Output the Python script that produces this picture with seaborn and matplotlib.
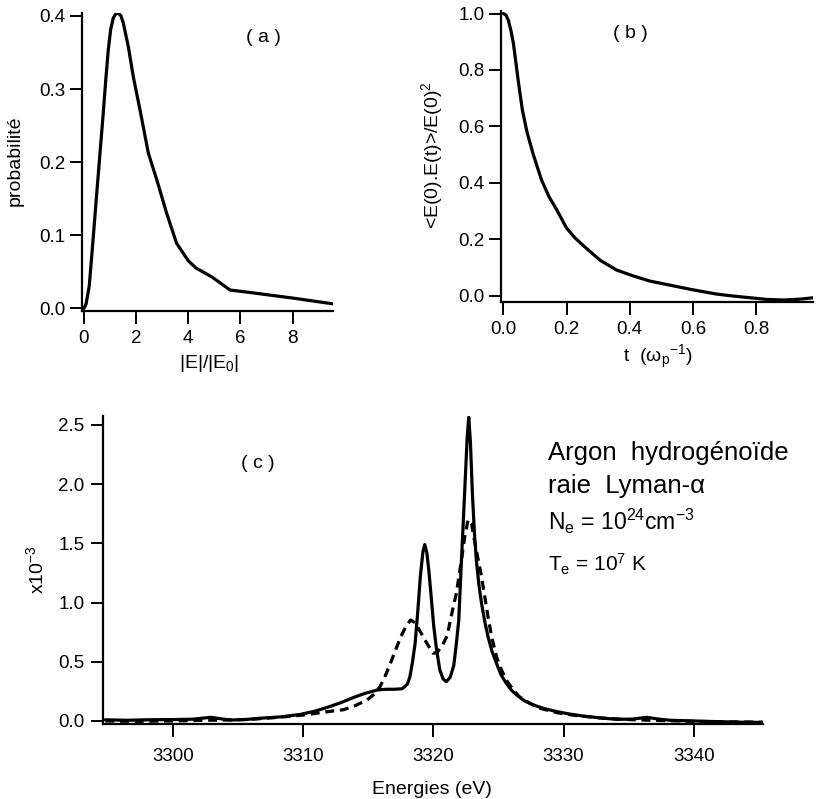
import matplotlib
matplotlib.use("Agg")
import matplotlib.pyplot as plt
import seaborn as sns
import numpy as np

# ---------------- data ----------------
# (a) probability distribution of |E|/|E0|
a_x = [0.0, 0.08, 0.20, 0.35, 0.49, 0.62, 0.74, 0.84, 0.93, 1.02, 1.12, 1.22, 1.32,
       1.42, 1.51, 1.70, 1.89, 2.15, 2.47, 2.79, 3.17, 3.55, 4.0, 4.3, 4.9, 5.6,
       6.5, 8.0, 9.56]
a_y = [0.0, 0.006, 0.030, 0.095, 0.158, 0.215, 0.268, 0.315, 0.353, 0.381, 0.397,
       0.403, 0.404, 0.400, 0.390, 0.358, 0.317, 0.271, 0.212, 0.176, 0.130, 0.089,
       0.065, 0.055, 0.043, 0.025, 0.021, 0.014, 0.006]

# (b) electric field autocorrelation
b_t = [0.0, 0.008, 0.016, 0.024, 0.032, 0.047, 0.060, 0.075, 0.095, 0.121, 0.145,
       0.169, 0.200, 0.227, 0.253, 0.306, 0.359, 0.412, 0.464, 0.517, 0.596, 0.675,
       0.728, 0.781, 0.834, 0.887, 0.939, 0.981]
b_y = [1.0, 0.995, 0.976, 0.940, 0.894, 0.764, 0.660, 0.580, 0.500, 0.410, 0.350,
       0.305, 0.240, 0.205, 0.178, 0.126, 0.091, 0.070, 0.052, 0.040, 0.022, 0.006,
       -0.001, -0.007, -0.013, -0.015, -0.012, -0.007]

# (c) Lyman-alpha profiles (x1e-3)
c_e_solid = [3294.8, 3296.5, 3298.0, 3300.0, 3301.5, 3302.9, 3304.4, 3305.5, 3306.7,
             3308.3, 3309.8, 3310.8, 3311.8, 3312.9, 3313.9, 3314.8, 3315.7, 3316.4,
             3317.0, 3317.6, 3318.0, 3318.2, 3318.4, 3318.6, 3318.8, 3319.0, 3319.2,
             3319.34, 3319.5, 3319.65, 3319.85, 3320.03, 3320.25, 3320.5, 3320.75,
             3321.0, 3321.3, 3321.57, 3321.77, 3321.95, 3322.16, 3322.4, 3322.6,
             3322.72, 3322.85, 3323.0, 3323.15, 3323.3, 3323.5, 3323.7, 3323.95,
             3324.2, 3324.5, 3324.85, 3325.2, 3325.6, 3326.0, 3326.4, 3327.0, 3327.7,
             3328.5, 3329.5, 3330.5, 3331.5, 3332.8, 3334.1, 3335.3, 3336.4, 3337.3,
             3338.2, 3340.0, 3342.0, 3343.5, 3345.3]
c_solid = [0.010, 0.006, 0.010, 0.012, 0.015, 0.031, 0.008, 0.012, 0.023,
           0.035, 0.056, 0.080, 0.113, 0.155, 0.200, 0.235, 0.262, 0.268,
           0.268, 0.272, 0.310, 0.374, 0.500, 0.656, 0.920, 1.220, 1.430,
           1.490, 1.420, 1.275, 1.030, 0.800, 0.600, 0.430, 0.355,
           0.332, 0.370, 0.470, 0.656, 0.850, 1.360, 1.920, 2.400,
           2.565, 2.350, 1.920, 1.600, 1.360, 1.150, 0.994, 0.840,
           0.712, 0.590, 0.487, 0.390, 0.318, 0.260, 0.220, 0.170, 0.135,
           0.105, 0.079, 0.058, 0.042, 0.026, 0.014, 0.016, 0.031, 0.016,
           0.006, 0.000, -0.006, -0.010, -0.012]

c_e_dash = [3294.8, 3297.0, 3300.0, 3302.0, 3304.0, 3306.0, 3308.0, 3310.0, 3311.3,
            3312.3, 3313.1, 3314.0, 3314.9, 3315.5, 3315.9, 3316.3, 3316.7, 3317.1,
            3317.5, 3317.9, 3318.25, 3318.6, 3319.0, 3319.5, 3319.98, 3320.3,
            3320.7, 3321.06, 3321.26, 3321.5, 3321.77, 3322.16, 3322.4, 3322.67,
            3322.93, 3323.1, 3323.3, 3323.7, 3323.95, 3324.2, 3324.5, 3324.85,
            3325.2, 3325.6, 3326.1, 3326.6, 3327.4, 3328.2, 3329.5, 3331.0, 3333.0,
            3335.0, 3337.0, 3339.0, 3341.0, 3343.0, 3345.3]
c_dash = [0.000, -0.003, 0.000, 0.005, 0.008, 0.014, 0.030, 0.050, 0.070,
          0.085, 0.095, 0.130, 0.177, 0.230, 0.290, 0.380, 0.487, 0.600,
          0.712, 0.800, 0.853, 0.830, 0.754, 0.656, 0.572, 0.580,
          0.640, 0.720, 0.825, 0.950, 1.080, 1.360, 1.550, 1.700,
          1.670, 1.560, 1.444, 1.219, 1.050, 0.880, 0.700, 0.543,
          0.440, 0.346, 0.270, 0.205, 0.150, 0.107, 0.070, 0.045, 0.024,
          0.012, 0.005, 0.000, -0.005, -0.008, -0.010]

a_xticks = [0, 2, 4, 6, 8]
a_yticks = [0.0, 0.1, 0.2, 0.3, 0.4]
b_xticks = [0.0, 0.2, 0.4, 0.6, 0.8]
b_yticks = [0.0, 0.2, 0.4, 0.6, 0.8, 1.0]
c_xticks = [3300, 3310, 3320, 3330, 3340]
c_yticks = [0.0, 0.5, 1.0, 1.5, 2.0, 2.5]

# ---------------- style ----------------
sns.set_theme(style="ticks")
FAM = ["Liberation Sans", "DejaVu Sans"]
plt.rcParams["font.family"] = FAM
plt.rcParams["mathtext.default"] = "regular"
plt.rcParams["axes.linewidth"] = 1.6

W, H = 816, 799
fig = plt.figure(figsize=(W / 100, H / 100), dpi=100)
fig.patch.set_facecolor("white")

TICK_FS = 13.5
LABEL_FS = 14


def frac(x, y):
    return x / W, 1 - y / H


def make_ax(l, t, r, b, xpad=5, ypad=3):
    ax = fig.add_axes([l / W, 1 - b / H, (r - l) / W, (b - t) / H])
    ax.set_facecolor("white")
    sns.despine(ax=ax)
    for s in ("left", "bottom"):
        ax.spines[s].set_color("black")
        ax.spines[s].set_linewidth(1.6)
    ax.tick_params(direction="out", length=9, width=1.4, colors="black",
                   labelsize=TICK_FS, labelcolor="black")
    ax.tick_params(axis="x", pad=xpad)
    ax.tick_params(axis="y", pad=ypad)
    ax.grid(False)
    return ax


LW = 2.3

# (a)
ax_a = make_ax(81.7, 12.7, 333.3, 310.7)
sns.lineplot(x=a_x, y=a_y, ax=ax_a, color="black", lw=LW, sort=False)
ax_a.set_xlim(-0.088, 9.56)
ax_a.set_ylim(-0.0033, 0.4045)
ax_a.set_xticks(a_xticks)
ax_a.set_xticklabels([str(v) for v in a_xticks])
ax_a.set_yticks(a_yticks)
ax_a.set_yticklabels([f"{v:.1f}" for v in a_yticks])

# (b)
ax_b = make_ax(501, 11, 813.3, 301.7)
sns.lineplot(x=b_t, y=b_y, ax=ax_b, color="black", lw=LW, sort=False)
ax_b.set_xlim(-0.0073, 0.981)
ax_b.set_ylim(-0.021, 1.009)
ax_b.set_xticks(b_xticks)
ax_b.set_xticklabels([f"{v:.1f}" for v in b_xticks])
ax_b.set_yticks(b_yticks)
ax_b.set_yticklabels([f"{v:.1f}" for v in b_yticks])

# (c)
ax_c = make_ax(102.7, 416, 762.7, 724.3, xpad=8, ypad=4)
sns.lineplot(x=c_e_dash, y=c_dash, ax=ax_c, color="black", lw=LW, sort=False,
             linestyle=(0, (2.8, 1.8)))
sns.lineplot(x=c_e_solid, y=c_solid, ax=ax_c, color="black", lw=LW, sort=False)
ax_c.set_xlim(3294.6, 3345.3)
ax_c.set_ylim(-0.028, 2.576)
ax_c.set_xticks(c_xticks)
ax_c.set_xticklabels([str(v) for v in c_xticks])
ax_c.set_yticks(c_yticks)
ax_c.set_yticklabels([f"{v:.1f}" for v in c_yticks])

for ax in (ax_a, ax_b, ax_c):
    ax.set_xlabel("")
    ax.set_ylabel("")

# ---------------- texts ----------------
def ftext(x, y, s, **kw):
    fx, fy = frac(x, y)
    kw.setdefault("ha", "center")
    kw.setdefault("va", "center")
    kw.setdefault("color", "black")
    fig.text(fx, fy, s, **kw)


ftext(15, 161, "probabilité", rotation=90, fontsize=LABEL_FS)
ftext(209, 364, r"|E|/|E$_{0}$|", fontsize=LABEL_FS)
ftext(432, 155, r"<E(0).E(t)>/E(0)$^{2}$", rotation=90, fontsize=LABEL_FS)
ftext(658, 357, r"t  (ω$_{p}$$^{-1}$)", fontsize=LABEL_FS)
ftext(432, 789, "Energies (eV)", fontsize=LABEL_FS)
ftext(36, 570, r"x10$^{-3}$", rotation=90, fontsize=LABEL_FS)

ftext(263, 38, "( a )", fontsize=14)
ftext(630, 34, "( b )", fontsize=14)
ftext(258, 463, "( c )", fontsize=14)

ftext(547.7, 460, "Argon  hydrogénoïde", ha="left", va="baseline", fontsize=18.5)
ftext(547.7, 493.3, "raie  Lyman-α", ha="left", va="baseline", fontsize=18.5)
ftext(547.7, 530, r"N$_{e}$ = 10$^{24}$cm$^{-3}$", ha="left", va="baseline", fontsize=16.5)
ftext(547.7, 571.7, r"T$_{e}$ = 10$^{7}$ K", ha="left", va="baseline", fontsize=15)

fig.savefig("out.png", dpi=100, facecolor="white")
